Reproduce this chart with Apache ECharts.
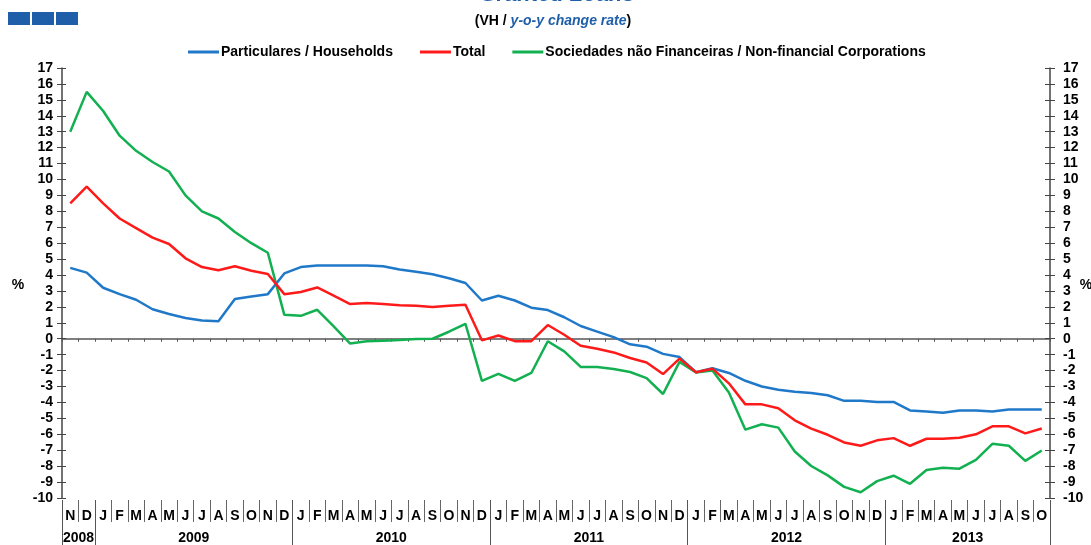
<!DOCTYPE html>
<html>
<head>
<meta charset="utf-8">
<script src="https://cdn.jsdelivr.net/npm/echarts@6/dist/echarts.min.js"></script>
<style>
html,body{margin:0;padding:0;background:#fff;}
#chart{width:1091px;height:545px;}
</style>
</head>
<body>
<div id="chart"></div>
<script>
// ---- data ----
const monthLabels = ['N','D',
  'J','F','M','A','M','J','J','A','S','O','N','D',
  'J','F','M','A','M','J','J','A','S','O','N','D',
  'J','F','M','A','M','J','J','A','S','O','N','D',
  'J','F','M','A','M','J','J','A','S','O','N','D',
  'J','F','M','A','M','J','J','A','S','O'];
const yearLabels = ['2008','2009','2010','2011','2012','2013'];
const monthsPerYear = [2,12,12,12,12,10];

const households = [4.45,4.15,
  3.2,2.8,2.45,1.85,1.55,1.3,1.15,1.1,2.5,2.65,2.8,4.1,
  4.5,4.6,4.6,4.6,4.6,4.55,4.35,4.2,4.05,3.8,3.5,2.4,
  2.7,2.4,1.95,1.8,1.35,0.8,0.45,0.1,-0.35,-0.5,-0.95,-1.15,
  -2.1,-1.85,-2.15,-2.64,-3.0,-3.2,-3.33,-3.4,-3.55,-3.9,-3.9,-3.97,
  -3.97,-4.5,-4.57,-4.65,-4.5,-4.5,-4.57,-4.44,-4.44,-4.44];
const total = [8.5,9.55,
  8.5,7.55,6.95,6.35,5.95,5.05,4.5,4.3,4.55,4.27,4.06,2.8,
  2.93,3.22,2.7,2.18,2.24,2.18,2.1,2.07,2.0,2.07,2.13,-0.1,
  0.2,-0.15,-0.15,0.86,0.25,-0.44,-0.63,-0.86,-1.21,-1.49,-2.22,-1.25,
  -2.1,-1.88,-2.8,-4.12,-4.12,-4.36,-5.12,-5.64,-6.03,-6.51,-6.72,-6.38,
  -6.24,-6.72,-6.28,-6.28,-6.22,-6.0,-5.5,-5.5,-5.94,-5.64];
const corporations = [13.0,15.5,
  14.3,12.75,11.8,11.1,10.5,9.0,8.0,7.55,6.7,6.0,5.4,1.5,
  1.44,1.82,0.77,-0.3,-0.16,-0.12,-0.08,-0.02,0.0,0.44,0.94,-2.65,
  -2.2,-2.65,-2.15,-0.16,-0.79,-1.77,-1.77,-1.9,-2.09,-2.47,-3.47,-1.45,
  -2.12,-2.0,-3.38,-5.71,-5.37,-5.58,-7.08,-7.99,-8.58,-9.3,-9.64,-8.94,
  -8.6,-9.11,-8.24,-8.1,-8.16,-7.61,-6.6,-6.72,-7.67,-7.02];
const seriesNames = ['Particulares / Households','Total','Sociedades não Financeiras / Non-financial Corporations'];
const yMin = -10, yMax = 17, yStep = 1;

// ---- derived year axis (boundaries between months) ----
const yearStarts = [0];
monthsPerYear.forEach(n => yearStarts.push(yearStarts[yearStarts.length-1] + n));
const boundaryCats = new Array(monthLabels.length + 1).fill('');
yearLabels.forEach((y, k) => {
  const mid = (yearStarts[k] + yearStarts[k+1]) / 2;
  boundaryCats[mid] = y;
});

const FONT = "'Liberation Sans', Arial, sans-serif";
const AX = '#444';
const BLUE_T = '#1f5ea8';

const chart = echarts.init(document.getElementById('chart'));
const lbl = {fontFamily: FONT, fontWeight: 'bold', fontSize: 14, color: '#000'};
chart.setOption({
  animation: false,
  backgroundColor: '#fff',
  grid: {left: 62, right: 41, top: 68, bottom: 47, containLabel: false},
  legend: {
    left: 183, top: 40,
    icon: 'rect', itemWidth: 31, itemHeight: 3, itemGap: 27,
    textStyle: {fontFamily: FONT, fontWeight: 'bold', fontSize: 14, color: '#000', padding: [0,0,0,-3]},
    data: seriesNames
  },
  xAxis: [
    { // month letters with separators
      type: 'category', data: monthLabels, boundaryGap: true, position: 'bottom', offset: 2,
      axisLine: {show: false, onZero: false},
      axisTick: {show: true, interval: 0, length: 22, lineStyle: {color: '#666', width: 1}},
      axisLabel: {interval: 0, margin: 9, ...lbl},
      splitLine: {show: false}
    },
    { // zero line
      type: 'category', data: monthLabels, boundaryGap: true, position: 'bottom',
      axisLine: {show: true, onZero: true, onZeroAxisIndex: 0, lineStyle: {color: '#555', width: 1.5}},
      axisTick: {show: true, interval: 0, length: 3, lineStyle: {color: '#555'}},
      axisLabel: {show: false},
      splitLine: {show: false}
    },
    { // years
      type: 'category', data: boundaryCats, boundaryGap: false, position: 'bottom', offset: 2,
      axisLine: {show: false, onZero: false},
      axisTick: {show: true, length: 50, interval: (i) => yearStarts.indexOf(i) >= 0, lineStyle: {color: '#555', width: 1}},
      axisLabel: {interval: 0, margin: 31, ...lbl},
      splitLine: {show: false}
    }
  ],
  yAxis: [
    {
      type: 'value', position: 'left', min: yMin, max: yMax, interval: yStep,
      axisLine: {show: true, lineStyle: {color: AX, width: 1.5}},
      axisTick: {show: true, length: 5, lineStyle: {color: AX}},
      axisLabel: {margin: 9, ...lbl},
      splitLine: {show: false}
    },
    {
      type: 'value', position: 'right', min: yMin, max: yMax, interval: yStep,
      axisLine: {show: true, lineStyle: {color: AX, width: 1.5}},
      axisTick: {show: true, length: 5, lineStyle: {color: AX}},
      axisLabel: {margin: 13, ...lbl},
      splitLine: {show: false}
    },
    {
      type: 'value', position: 'left', min: yMin, max: yMax, interval: yStep,
      axisLine: {show: false}, axisLabel: {show: false}, splitLine: {show: false},
      axisTick: {show: true, inside: true, length: 4, lineStyle: {color: AX}}
    },
    {
      type: 'value', position: 'right', min: yMin, max: yMax, interval: yStep,
      axisLine: {show: false}, axisLabel: {show: false}, splitLine: {show: false},
      axisTick: {show: true, inside: true, length: 5, lineStyle: {color: AX}}
    }
  ],
  series: [
    {name: seriesNames[0], type: 'line', data: households, xAxisIndex: 0, yAxisIndex: 0,
     symbol: 'none', lineStyle: {color: '#1f78c8', width: 2.5}, itemStyle: {color: '#1f78c8'}, z: 3},
    {name: seriesNames[1], type: 'line', data: total, xAxisIndex: 0, yAxisIndex: 0,
     symbol: 'none', lineStyle: {color: '#ff1a1a', width: 2.5}, itemStyle: {color: '#ff1a1a'}, z: 4},
    {name: seriesNames[2], type: 'line', data: corporations, xAxisIndex: 0, yAxisIndex: 0,
     symbol: 'none', lineStyle: {color: '#12b050', width: 2.5}, itemStyle: {color: '#12b050'}, z: 2}
  ],
  graphic: [
    {type: 'rect', left: 8, top: 12, shape: {width: 22, height: 13}, style: {fill: BLUE_T}},
    {type: 'rect', left: 32, top: 12, shape: {width: 22, height: 13}, style: {fill: BLUE_T}},
    {type: 'rect', left: 56, top: 12, shape: {width: 22, height: 13}, style: {fill: BLUE_T}},
    {type: 'text', x: 557, y: -5, style: {text: 'Granted Loans', font: "italic bold 22px " + FONT, fill: BLUE_T, textAlign: 'center', textVerticalAlign: 'middle'}},
    {type: 'text', x: 553, y: 21, style: {
      text: '{a|(VH / }{b|y-o-y change rate}{a|)}', textAlign: 'center', textVerticalAlign: 'middle',
      rich: {
        a: {fontFamily: FONT, fontWeight: 'bold', fontSize: 14, fill: '#000', color: '#000'},
        b: {fontFamily: FONT, fontWeight: 'bold', fontStyle: 'italic', fontSize: 14, fill: BLUE_T, color: BLUE_T}
      }}},
    {type: 'text', x: 18, y: 285, style: {text: '%', font: "bold 14px " + FONT, fill: '#000', textAlign: 'center', textVerticalAlign: 'middle'}},
    {type: 'text', x: 1086, y: 285, style: {text: '%', font: "bold 14px " + FONT, fill: '#000', textAlign: 'center', textVerticalAlign: 'middle'}}
  ]
});
</script>
</body>
</html>
